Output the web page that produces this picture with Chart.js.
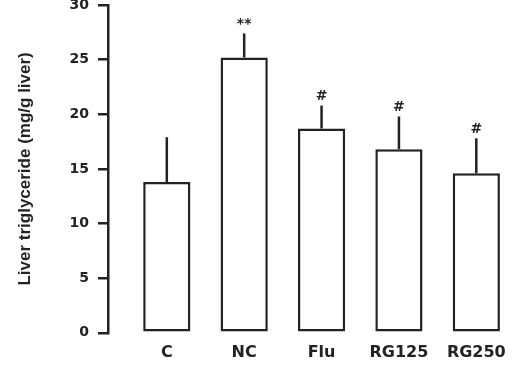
<!DOCTYPE html>
<html>
<head>
<meta charset="utf-8">
<script src="https://cdn.jsdelivr.net/npm/chart.js@4.4.1/dist/chart.umd.min.js"></script>
<style>
  html, body { margin: 0; padding: 0; background: #fff; }
  #wrap { width: 523px; height: 366px; }
</style>
</head>
<body>
<div id="wrap"><canvas id="chart"></canvas></div>
<script>
// values
const groups = ['C', 'NC', 'Flu', 'RG125', 'RG250'];
const means = [13.8, 25.2, 18.7, 16.8, 14.6];
const errs = [4.1, 2.2, 2.1, 3.0, 3.2];
const marks = ['', '**', '#', '#', '#'];
const yTicks = [0, 5, 10, 15, 20, 25, 30];

const ink = '#222';

// error bars (upper only) + significance marks
const errorBars = {
  id: 'errorBars',
  afterDatasetsDraw(chart) {
    const ctx = chart.ctx, xs = chart.scales.x, ys = chart.scales.y;
    ctx.save();
    ctx.strokeStyle = ink;
    ctx.lineWidth = 2.5;
    ctx.fillStyle = ink;
    ctx.font = 'bold 14px "DejaVu Sans"';
    ctx.textAlign = 'center';
    ctx.textBaseline = 'bottom';
    means.forEach((m, i) => {
      const x = xs.getPixelForValue(i);
      const y0 = ys.getPixelForValue(m);
      const y1 = ys.getPixelForValue(m + errs[i]);
      ctx.beginPath();
      ctx.moveTo(x, y0);
      ctx.lineTo(x, y1);
      ctx.stroke();
      if (marks[i]) ctx.fillText(marks[i], x, y1 - 2);
    });
    ctx.restore();
  }
};

new Chart(document.getElementById('chart'), {
  type: 'bar',
  data: {
    datasets: [{
      data: means.map((v, i) => ({ x: i, y: v })),
      backgroundColor: '#fff',
      borderColor: ink,
      borderWidth: 2.5,
      borderSkipped: false,
      barPercentage: 0.61,
      categoryPercentage: 1
    }]
  },
  options: {
    responsive: true,
    maintainAspectRatio: false,
    animation: false,
    layout: { padding: { left: 0, right: 8, top: 5, bottom: 2 } },
    plugins: { legend: { display: false }, tooltip: { enabled: false } },
    scales: {
      x: {
        type: 'linear',
        offset: false,
        min: -0.76,
        max: 4.5,
        afterBuildTicks: s => { s.ticks = groups.map((g, i) => ({ value: i })); },
        grid: { display: false },
        border: { display: false },
        ticks: {
          callback: v => groups[v],
          color: ink,
          font: { family: '"DejaVu Sans"', weight: 'bold', size: 16 },
          padding: 2,
          maxRotation: 0
        }
      },
      y: {
        min: 0,
        max: 30,
        afterBuildTicks: s => { s.ticks = yTicks.map(v => ({ value: v })); },
        // fixed axis width; let the top/bottom labels hang over the edges
        afterFit: s => { s.width = 108; s.paddingTop = 0; s.paddingBottom = 0; },
        grid: { drawOnChartArea: false, color: ink, lineWidth: 2.5, tickLength: 10 },
        border: { display: true, color: ink, width: 2.5 },
        ticks: {
          color: ink,
          font: { family: '"DejaVu Sans"', weight: 'bold', size: 14 },
          padding: 9
        },
        title: {
          display: true,
          text: 'Liver triglyceride (mg/g liver)',
          color: ink,
          font: { family: '"Liberation Sans Narrow", "Liberation Sans"', weight: 'bold', size: 17 },
          padding: { top: 15, bottom: 0 }
        }
      }
    }
  },
  plugins: [errorBars]
});
</script>
</body>
</html>
